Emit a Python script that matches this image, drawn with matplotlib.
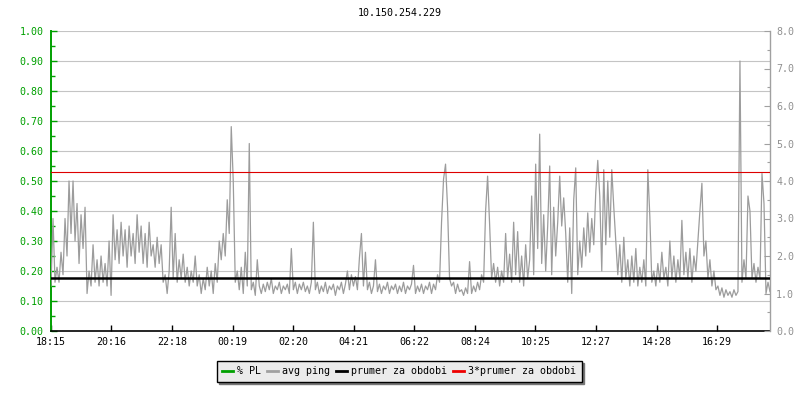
import matplotlib
matplotlib.use("Agg")
import matplotlib.pyplot as plt
from matplotlib.lines import Line2D
import numpy as np

title = "10.150.254.229"
tick_labels = ["18:15", "20:16", "22:18", "00:19", "02:20", "04:21",
               "06:22", "08:24", "10:25", "12:27", "14:28", "16:29"]
tick_minutes = [0, 121, 243, 364, 485, 606, 727, 849, 970, 1092, 1213, 1334]
span_minutes = 1440

# avg ping [ms], sampled evenly over the 24 h window
avg_ping = [
    1.2, 3.0, 1.3, 1.7, 1.3, 2.1, 1.5, 3.0, 2.0, 4.0,
    2.6, 4.0, 2.4, 3.4, 1.8, 3.1, 2.2, 3.3, 1.0, 1.6,
    1.2, 2.3, 1.3, 1.9, 1.2, 2.0, 1.3, 1.8, 1.2, 2.4,
    0.95, 3.1, 1.9, 2.7, 1.8, 2.9, 2.0, 2.7, 1.7, 2.8,
    2.0, 2.6, 1.8, 3.1, 2.1, 2.8, 1.8, 2.6, 1.7, 2.9,
    2.0, 2.3,
    1.7, 2.5, 1.8, 2.3, 1.3, 1.5, 1.0, 1.6, 3.3, 1.4,
    2.6, 1.3, 1.9, 1.4, 2.05, 1.3, 1.7, 1.2, 1.6, 1.3,
    2.0, 1.2, 1.5, 1.0, 1.4, 1.1, 1.7, 1.2, 1.6, 1.0,
    1.8, 1.3, 2.4, 1.9, 2.6, 2.0, 3.5, 2.6, 5.45, 4.0,
    1.3, 1.6, 1.1, 1.7, 1.0, 2.1, 1.2, 5.0, 1.1, 1.3,
    0.95,
    1.9, 1.2, 1.0, 1.25, 1.05, 1.3, 1.1, 1.4, 1.0, 1.2,
    1.1, 1.3, 1.0, 1.2, 1.1, 1.25, 1.0, 2.2, 1.1, 1.3,
    1.0, 1.25, 1.1, 1.3, 1.05, 1.2, 1.0, 1.3, 2.9, 1.1,
    1.3, 1.0, 1.2, 1.05, 1.3, 1.0, 1.2, 1.1, 1.25, 0.95,
    1.2, 1.1, 1.3, 1.0, 1.25, 1.6, 1.1, 1.5, 1.2, 1.45,
    1.1,
    1.95, 2.6, 1.2, 2.1, 1.1, 1.3, 1.0, 1.2, 1.9, 1.05,
    1.25, 1.0, 1.2, 1.1, 1.3, 1.0, 1.2, 1.1, 1.25, 1.0,
    1.2, 1.05, 1.3, 1.0, 1.2, 1.1, 1.25, 1.75, 1.0, 1.2,
    1.05, 1.25, 1.0, 1.2, 1.1, 1.3, 1.0, 1.25, 1.1, 1.5,
    1.3, 2.9, 4.05, 4.45, 3.3, 1.4, 1.2, 1.3, 1.0, 1.25,
    1.05, 1.1,
    0.95, 1.15, 1.0, 1.85, 1.0, 1.2, 1.05, 1.3, 1.1, 1.5,
    1.3, 3.2, 4.13, 2.85, 1.4, 1.8, 1.3, 1.7, 1.2, 1.6,
    1.3, 2.6, 1.4, 2.05, 1.3, 2.9, 1.5, 2.65, 1.3, 2.0,
    1.2, 2.3, 1.4, 1.9, 3.6, 1.5, 4.45, 2.2, 5.25, 1.8,
    3.1, 1.6, 2.8, 4.4, 1.5, 3.3, 2.0, 2.9, 4.13, 2.8,
    3.55,
    2.6, 1.3, 2.75, 1.0, 3.5, 4.35, 1.5, 2.4, 1.7, 2.75,
    2.0, 3.15, 2.1, 3.0, 2.3, 3.7, 4.55, 3.6, 1.6, 4.3,
    2.3, 4.0, 2.5, 4.3, 3.3, 2.4, 1.5, 2.3, 1.3, 2.5,
    1.4, 1.9, 1.2, 2.0, 1.3, 2.2, 1.2, 1.7, 1.3, 1.9,
    1.2, 4.3, 3.05, 1.3, 1.6, 1.2, 1.8, 1.3, 2.1, 1.4,
    1.7, 1.2,
    2.4, 1.4, 2.0, 1.3, 1.9, 1.4, 2.95, 1.5, 2.1, 1.4,
    2.2, 1.3, 2.0, 1.6, 2.4, 3.2, 3.94, 2.0, 2.4, 1.4,
    1.9, 1.2, 1.6, 1.1, 1.2, 0.95, 1.15, 0.9, 1.1, 0.95,
    1.05, 0.9, 1.1, 0.95, 1.05, 7.2, 1.3, 1.9, 1.4, 3.6,
    3.2, 1.4, 1.8, 1.3, 1.7, 1.4, 4.2, 3.4, 1.0, 1.3,
    1.05,
]
prumer = 1.41  # average over the period [ms]

times = np.linspace(0, span_minutes, len(avg_ping))

mono = "DejaVu Sans Mono"
fs = 7.2
green = "#00a000"
gray_axis = "#a0a0a0"

fig = plt.figure(figsize=(8, 4), dpi=100)
ax = fig.add_axes([51 / 800, 1 - 331 / 400, 719 / 800, 300 / 400])
ax2 = ax.twinx()

ax.set_xlim(0, span_minutes)
ax.set_ylim(0, 1.0)
ax2.set_ylim(0, 8.0)

ax.set_yticks(np.arange(0, 1.0001, 0.1))
ax.set_yticks(np.arange(0.05, 1.0, 0.1), minor=True)
ax.set_yticklabels([f"{v:.2f}" for v in np.arange(0, 1.0001, 0.1)])
ax2.set_yticks(np.arange(0, 8.0001, 1.0))
ax2.set_yticks(np.arange(0.5, 8.0, 1.0), minor=True)
ax2.set_yticklabels([f"{v:.1f}" for v in np.arange(0, 8.0001, 1.0)])

ax.set_xticks(tick_minutes)
ax.set_xticklabels(tick_labels)

ax.grid(axis="y", which="major", color="#c4c4c4", linewidth=0.8)
ax.set_axisbelow(True)

for a in (ax, ax2):
    a.spines["top"].set_visible(False)
ax.spines["left"].set_color(green)
ax.spines["left"].set_linewidth(1.4)
ax.spines["bottom"].set_color("black")
ax.spines["bottom"].set_linewidth(1.2)
ax.spines["right"].set_visible(False)
ax2.spines["left"].set_visible(False)
ax2.spines["bottom"].set_visible(False)
ax2.spines["right"].set_color(gray_axis)
ax2.spines["right"].set_linewidth(1.0)

ax.tick_params(axis="y", which="major", direction="in", length=4.5, width=1.0,
               color=green, labelcolor=green, labelsize=fs, pad=5.5)
ax.tick_params(axis="y", which="minor", direction="in", length=3, width=1.0, color=green)
ax2.tick_params(axis="y", which="major", direction="in", length=4, width=0.8,
                color=gray_axis, labelcolor="#909090", labelsize=fs, pad=4.5)
ax2.tick_params(axis="y", which="minor", direction="in", length=2.5, width=0.8, color=gray_axis)
ax.tick_params(axis="x", direction="in", length=4.5, width=1.0, color="black",
               labelsize=fs, pad=4)

for lab in ax.get_xticklabels() + ax.get_yticklabels() + ax2.get_yticklabels():
    lab.set_family(mono)

ax2.plot(times, avg_ping, color="#9c9c9c", linewidth=0.9, zorder=2)
ax2.axhline(prumer, color="black", linewidth=1.8, zorder=3)
ax2.axhline(3 * prumer, color="#dd0000", linewidth=0.8, zorder=3)

fig.text(0.5, 1 - 13 / 400, title, ha="center", va="center",
         family=mono, fontsize=fs, color="black")

handles = [
    Line2D([], [], color=green, linewidth=2),
    Line2D([], [], color="#a0a0a0", linewidth=2),
    Line2D([], [], color="black", linewidth=2),
    Line2D([], [], color="#ee0000", linewidth=2),
]
labels = ["% PL", "avg ping", "prumer za obdobi", "3*prumer za obdobi"]
leg = fig.legend(handles, labels, loc="center", bbox_to_anchor=(399 / 800, 1 - 371 / 400),
                 ncol=4, frameon=True, fancybox=False, shadow={"color": "#777777", "alpha": 1.0},
                 prop={"family": mono, "size": fs}, handlelength=1.1, handletextpad=0.4,
                 columnspacing=0.6, borderpad=0.55, borderaxespad=0)
leg.get_frame().set_facecolor("#ebebeb")
leg.get_frame().set_edgecolor("black")
leg.get_frame().set_linewidth(1.0)

fig.savefig("out.png", dpi=100)
